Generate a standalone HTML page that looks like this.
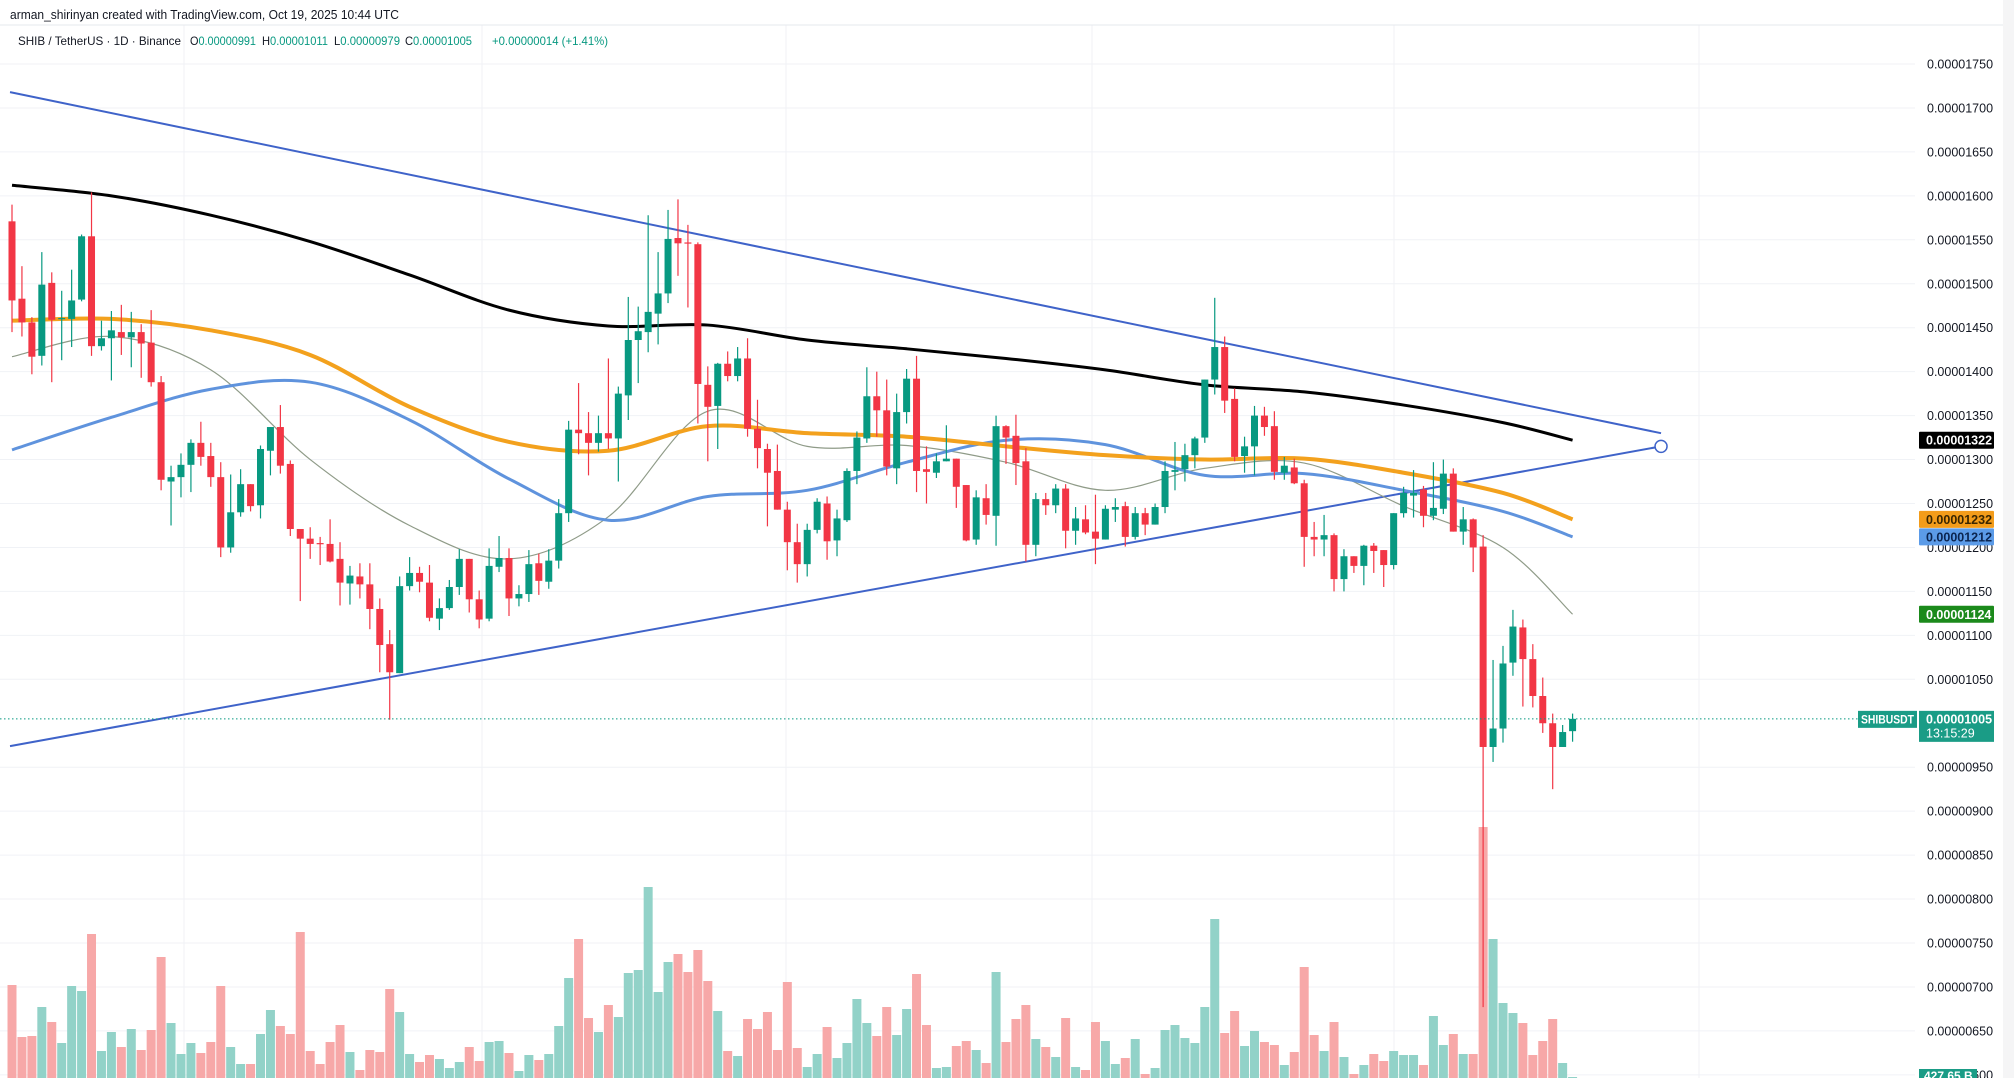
<!DOCTYPE html>
<html><head><meta charset="utf-8"><style>
html,body{margin:0;padding:0;background:#fff;}
svg{display:block;font-family:"Liberation Sans",sans-serif;}
</style></head><body>
<svg id="chart" width="2014" height="1078" viewBox="0 0 2014 1078" xmlns="http://www.w3.org/2000/svg">
<rect x="0" y="0" width="2014" height="1078" fill="#ffffff"/>
<rect x="2003" y="0" width="11" height="1078" fill="#f5f5f6"/>
<g id="grid"></g>
<g id="vol"></g>
<g id="trend"></g>
<g id="mas"></g>
<g id="candles"></g>
<g id="axis"></g>
<line x1="0" y1="25" x2="2003" y2="25" stroke="#e6e8ee" stroke-width="1"/>
<text x="10" y="19" font-size="13" fill="#131722" textLength="389" lengthAdjust="spacingAndGlyphs">arman_shirinyan created with TradingView.com, Oct 19, 2025 10:44 UTC</text>
<g font-size="12">
<text x="18" y="45" fill="#131722" textLength="163" lengthAdjust="spacingAndGlyphs">SHIB / TetherUS · 1D · Binance</text>
<text x="190" y="45" fill="#089981" textLength="66" lengthAdjust="spacingAndGlyphs"><tspan fill="#131722">O</tspan>0.00000991</text>
<text x="262" y="45" fill="#089981" textLength="66" lengthAdjust="spacingAndGlyphs"><tspan fill="#131722">H</tspan>0.00001011</text>
<text x="334" y="45" fill="#089981" textLength="66" lengthAdjust="spacingAndGlyphs"><tspan fill="#131722">L</tspan>0.00000979</text>
<text x="405" y="45" fill="#089981" textLength="67" lengthAdjust="spacingAndGlyphs"><tspan fill="#131722">C</tspan>0.00001005</text>
<text x="492" y="45" fill="#089981" textLength="116" lengthAdjust="spacingAndGlyphs">+0.00000014 (+1.41%)</text>
</g>
<g id="labels"></g>
</svg>
<script>
const opens=[1571,1483,1456,1418,1501,1460,1460,1482,1554,1429,1438,1445,1439,1445,1433,1388,1275,1280,1294,1319,1304,1280,1200,1240,1272,1248,1310,1337,1295,1221,1210,1205,1204,1187,1159,1167,1158,1130,1090,1057,1156,1171,1160,1119,1131,1155,1187,1141,1119,1178,1188,1142,1147,1182,1161,1185,1239,1334,1330,1319,1330,1324,1373,1436,1445,1466,1489,1552,1547,1545,1385,1361,1409,1395,1415,1335,1312,1287,1243,1206,1181,1220,1250,1208,1231,1287,1324,1372,1356,1290,1354,1392,1289,1285,1298,1301,1271,1209,1256,1236,1338,1327,1298,1203,1255,1248,1267,1219,1232,1218,1209,1243,1247,1212,1239,1226,1246,1286,1289,1305,1325,1391,1428,1369,1304,1315,1350,1338,1285,1291,1273,1212,1209,1214,1164,1190,1179,1202,1197,1180,1239,1259,1266,1236,1244,1284,1218,1232,1201,973,994,1069,1109,1073,1031,1000,973,991];
const closes=[1481,1456,1417,1499,1459,1461,1481,1554,1429,1438,1447,1439,1445,1432,1388,1277,1280,1294,1319,1303,1280,1200,1240,1272,1247,1312,1337,1293,1221,1210,1204,1204,1184,1160,1168,1158,1130,1089,1058,1156,1171,1161,1120,1131,1155,1187,1141,1118,1179,1188,1142,1147,1181,1162,1185,1239,1334,1330,1319,1330,1324,1375,1436,1446,1468,1489,1551,1546,1546,1386,1360,1409,1395,1415,1335,1313,1285,1243,1206,1181,1220,1252,1207,1233,1287,1325,1372,1356,1292,1354,1392,1287,1286,1298,1301,1269,1208,1257,1237,1338,1325,1296,1203,1255,1248,1267,1219,1233,1217,1210,1244,1246,1212,1239,1226,1246,1287,1288,1305,1324,1391,1428,1367,1303,1315,1350,1337,1286,1293,1273,1212,1209,1214,1164,1190,1179,1202,1196,1180,1239,1262,1262,1236,1245,1284,1218,1232,1200,973,994,1068,1110,1073,1031,1000,973,990,1005];
const highs=[1590,1520,1462,1536,1513,1492,1516,1556,1604,1458,1469,1476,1468,1454,1470,1395,1293,1307,1323,1343,1319,1297,1283,1289,1272,1316,1337,1362,1299,1221,1223,1212,1232,1206,1179,1182,1182,1142,1106,1167,1189,1178,1180,1142,1163,1198,1187,1151,1199,1213,1199,1157,1197,1193,1198,1255,1344,1387,1354,1350,1415,1383,1485,1474,1578,1536,1584,1596,1567,1547,1406,1410,1423,1428,1438,1368,1318,1317,1252,1227,1227,1256,1258,1243,1290,1332,1405,1400,1391,1375,1403,1418,1315,1307,1339,1301,1271,1265,1272,1350,1339,1351,1313,1262,1262,1272,1272,1246,1248,1260,1248,1256,1252,1246,1245,1250,1298,1320,1318,1326,1391,1484,1440,1381,1326,1361,1360,1355,1303,1301,1277,1229,1237,1216,1198,1190,1203,1205,1197,1239,1269,1288,1270,1297,1300,1290,1246,1233,1214,1072,1088,1129,1118,1090,1052,1011,998,1011];
const lows=[1445,1440,1397,1407,1388,1413,1428,1480,1418,1424,1390,1419,1405,1393,1383,1265,1225,1257,1263,1293,1269,1189,1194,1235,1241,1233,1282,1284,1213,1139,1187,1180,1183,1134,1135,1142,1107,1058,1004,1057,1151,1149,1116,1106,1129,1146,1126,1108,1116,1172,1122,1133,1138,1146,1153,1176,1229,1306,1282,1309,1312,1275,1345,1387,1422,1431,1478,1509,1473,1341,1298,1312,1389,1389,1326,1290,1224,1243,1174,1160,1167,1216,1186,1190,1229,1272,1319,1326,1282,1272,1341,1263,1250,1279,1298,1245,1207,1203,1226,1202,1295,1271,1184,1190,1237,1239,1199,1203,1215,1181,1209,1229,1201,1209,1214,1226,1239,1265,1275,1290,1319,1374,1353,1298,1285,1282,1327,1277,1277,1272,1178,1190,1190,1150,1150,1171,1157,1171,1155,1175,1234,1234,1223,1231,1238,1218,1203,1172,677,956,978,1054,1019,1018,989,925,973,979];
const volumes=[930,410,420,710,560,350,920,870,1440,270,460,310,490,280,480,1210,550,240,350,250,360,920,310,140,140,440,680,520,440,1460,270,140,360,530,260,80,280,260,890,660,240,160,230,190,100,160,310,170,360,370,250,70,230,180,240,520,1000,1390,600,460,730,610,1050,1080,1910,860,1160,1240,1060,1280,970,670,270,220,590,490,660,280,960,300,110,240,510,200,350,790,550,420,710,430,690,1040,530,100,110,320,370,280,150,1060,360,590,730,390,310,210,600,110,80,560,370,140,200,390,40,100,480,530,400,350,710,1590,450,670,320,470,360,330,130,260,1110,430,270,560,210,40,130,240,170,270,230,230,130,620,330,440,240,240,2510,1390,750,650,550,230,370,590,150,10];
const maIdx=[0,10,20,30,40,50,60,70,80,90,100,110,120,130,140,150,157];
const ma200=[1612,1600,1578,1548,1510,1470,1452,1453,1436,1426,1415,1402,1385,1377,1362,1342,1322];
const ma100=[1458,1460,1447,1419,1360,1320,1310,1338,1330,1326,1315,1305,1300,1301,1285,1262,1232];
const ma50=[1311,1348,1380,1388,1345,1278,1231,1258,1265,1297,1322,1317,1282,1284,1265,1241,1212];
const ma20=[1417,1440,1402,1300,1225,1187,1235,1355,1315,1316,1297,1265,1290,1296,1247,1200,1124];
const trendUpperIdx=[-0.2,165.9];
const trendUpperVal=[1718,1330];
const trendLowerIdx=[-0.2,165.9];
const trendLowerVal=[974,1315];
const priceTicks=[1750,1700,1650,1600,1550,1500,1450,1400,1350,1300,1250,1200,1150,1100,1050,950,900,850,800,750,700,650,600];
const lastPrice=1005;

const NS='http://www.w3.org/2000/svg';
const X0=12, DX=9.94, Y0=64, KY=0.879, VTOP=1750, VOLBASE=1078, VOLK=0.1;
function xOf(i){return X0+i*DX;}
function yOf(v){return Y0+(VTOP-v)*KY;}
function mk(tag,attrs,parent){const e=document.createElementNS(NS,tag);for(const k in attrs)e.setAttribute(k,attrs[k]);parent.appendChild(e);return e;}
function fmt(v){return '0.0000'+String(v).padStart(4,'0');}

const grid=document.getElementById('grid');
priceTicks.forEach(t=>{
  const l=mk('line',{x1:0,x2:1915,y1:yOf(t),y2:yOf(t),stroke:'#f0f2f6','stroke-width':1},grid);
  
  
});
[184,482,786,1092,1394,1699].forEach(x=>{
  const l=mk('line',{x1:x,x2:x,y1:25,y2:1078,stroke:'#f0f2f6','stroke-width':1},grid);
  
  
});

const vg=document.getElementById('vol');
volumes.forEach((v,i)=>{
  const up=closes[i]>=opens[i];
  const h=v*VOLK;
  const r=mk('rect',{x:xOf(i)-4.5,y:VOLBASE-h,width:9,height:h,fill:up?'#92d2c8':'#f7a8a8'},vg);
  
  
});

const tg=document.getElementById('trend');
const tu=mk('line',{x1:xOf(trendUpperIdx[0]),y1:yOf(trendUpperVal[0]),x2:xOf(trendUpperIdx[1]),y2:yOf(trendUpperVal[1]),stroke:'#3f63c9','stroke-width':2},tg);


const tl=mk('line',{x1:xOf(trendLowerIdx[0]),y1:yOf(trendLowerVal[0]),x2:xOf(trendLowerIdx[1]),y2:yOf(trendLowerVal[1]),stroke:'#3f63c9','stroke-width':2},tg);


const th=mk('circle',{cx:xOf(trendLowerIdx[1]),cy:yOf(trendLowerVal[1]),r:6,fill:'#fff',stroke:'#3f63c9','stroke-width':1.5},tg);



function smoothPath(idx,vals){
  const p=idx.map((i,k)=>[xOf(i),yOf(vals[k])]);
  let d='M'+p[0][0]+','+p[0][1];
  for(let k=0;k<p.length-1;k++){
    const a=p[k-1]||p[k],b=p[k],c=p[k+1],e=p[k+2]||c;
    d+=' C'+(b[0]+(c[0]-a[0])/6)+','+(b[1]+(c[1]-a[1])/6)+' '+(c[0]-(e[0]-b[0])/6)+','+(c[1]-(e[1]-b[1])/6)+' '+c[0]+','+c[1];
  }
  return d;
}
const mg=document.getElementById('mas');
const m20=mk('path',{d:smoothPath(maIdx,ma20),fill:'none',stroke:'#8f9b88','stroke-width':1.2},mg);


const m50=mk('path',{d:smoothPath(maIdx,ma50),fill:'none',stroke:'#5f93dd','stroke-width':3},mg);


const m100=mk('path',{d:smoothPath(maIdx,ma100),fill:'none',stroke:'#f3a11d','stroke-width':4},mg);


const m200=mk('path',{d:smoothPath(maIdx,ma200),fill:'none',stroke:'#000000','stroke-width':3},mg);



const cg=document.getElementById('candles');
opens.forEach((o,i)=>{
  const c=closes[i],up=c>=o,col=up?'#089981':'#f23645',x=xOf(i);
  const w=mk('line',{x1:x,x2:x,y1:yOf(highs[i]),y2:yOf(lows[i]),stroke:col,'stroke-width':1.2},cg);
  
  
  const top=yOf(Math.max(o,c)),bot=yOf(Math.min(o,c));
  const b=mk('rect',{x:x-3.5,y:top,width:7,height:Math.max(1.2,bot-top),fill:col},cg);
  
  
});

const lp=mk('line',{x1:0,x2:1858,y1:yOf(lastPrice),y2:yOf(lastPrice),stroke:'#089981','stroke-width':1,'stroke-dasharray':'1.5 2.5'},cg);



const ag=document.getElementById('axis');
priceTicks.forEach(t=>{
  const tx=mk('text',{x:1927,y:yOf(t)+4.5,'font-size':12.5,fill:'#131722'},ag);
  tx.textContent=fmt(t);
  
  
});

const lg=document.getElementById('labels');
function tag(v,bg,fg,name){
  const y=yOf(v);
  const r=mk('rect',{x:1919,y:y-8.5,width:75,height:17,fill:bg,rx:1},lg);
  
  
  const t=mk('text',{x:1926,y:y+4.5,'font-size':12.5,fill:fg,'font-weight':'bold'},lg);
  t.textContent=fmt(v);
  
  
}
tag(ma200[ma200.length-1],'#000000','#ffffff','ma-200-value-label');
tag(ma100[ma100.length-1],'#f39c1a','#3a2600','ma-100-value-label');
tag(ma50[ma50.length-1],'#5b9be8','#0b2550','ma-50-value-label');
tag(ma20[ma20.length-1],'#1b8a1b','#ffffff','ma-20-value-label');
(function(){
  const y=yOf(lastPrice);
  const s=mk('rect',{x:1858,y:y-8,width:59,height:17,fill:'#1a9c86'},lg);
  
  
  const st=mk('text',{x:1861,y:y+4.5,'font-size':12,fill:'#ffffff','font-weight':'bold',textLength:53,lengthAdjust:'spacingAndGlyphs'},lg);
  st.textContent='SHIBUSDT';
  
  
  const b=mk('rect',{x:1919,y:y-8,width:75,height:31,fill:'#1a9c86'},lg);
  
  
  const t1=mk('text',{x:1926,y:y+4.5,'font-size':12.5,fill:'#ffffff','font-weight':'bold'},lg);
  t1.textContent=fmt(lastPrice);
  
  
  const t2=mk('text',{x:1926,y:y+18.5,'font-size':12.5,fill:'#ffffff'},lg);
  t2.textContent='13:15:29';
  
  
  const vb=mk('rect',{x:1919,y:1069,width:58,height:12,fill:'#1a9c86'},lg);
  
  
  const vt=mk('text',{x:1924,y:1080,'font-size':12,fill:'#ffffff','font-weight':'bold'},lg);
  vt.textContent='427.65 B';
  
  
})();
</script>
</body></html>
